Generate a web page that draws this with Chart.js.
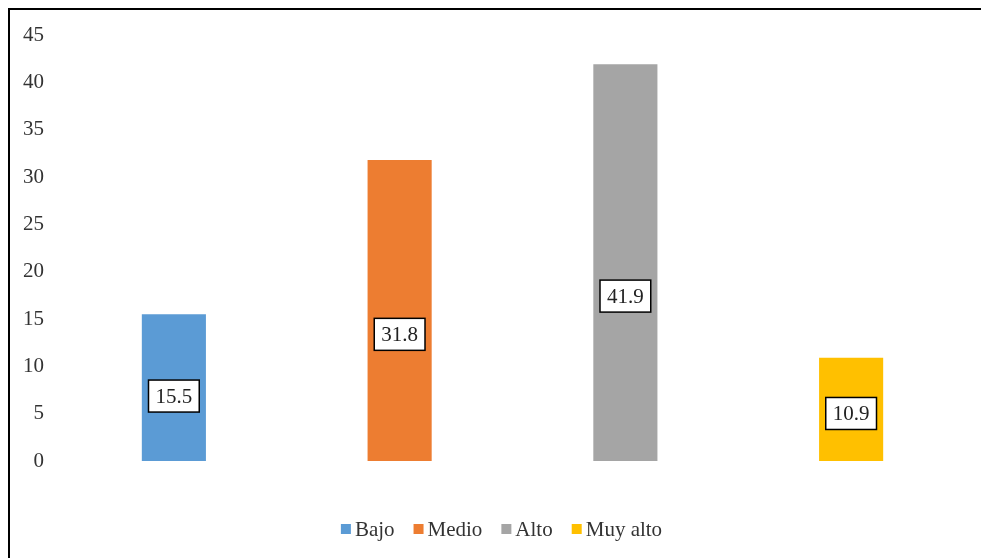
<!DOCTYPE html>
<html lang="es">
<head>
<meta charset="UTF-8">
<title>Niveles</title>
<script src="https://cdn.jsdelivr.net/npm/chart.js"></script>
<style>
  body { margin: 0; background: #fff; }
  #frame {
    position: absolute;
    left: 8px; top: 8px;
    width: 971px; height: 548px;
    border-top: 2px solid #000;
    border-left: 2px solid #000;
  }
  #chart { display: block; }
</style>
</head>
<body>
<div id="frame"><canvas id="chart" width="971" height="548"></canvas></div>
<script>
const categories = ['Bajo', 'Medio', 'Alto', 'Muy alto'];
const values = [15.5, 31.8, 41.9, 10.9];
const barColors = ['#5B9BD5', '#ED7D31', '#A5A5A5', '#FFC000'];
const yTicks = [0, 5, 10, 15, 20, 25, 30, 35, 40, 45];

const serif = "'Liberation Serif', 'Times New Roman', serif";

// boxed value labels, drawn a bit below the middle of each bar
const boxLabels = {
  id: 'boxLabels',
  afterDatasetsDraw(chart) {
    const c = chart.ctx;
    const y = chart.scales.y;
    const meta = chart.getDatasetMeta(0);
    c.save();
    c.font = '21px ' + serif;
    c.textAlign = 'center';
    c.textBaseline = 'middle';
    meta.data.forEach((bar, i) => {
      const v = values[i];
      const txt = v.toFixed(1);
      const cy = y.getPixelForValue(v * 0.4 + 0.66);
      const w = c.measureText(txt).width + 14;
      const h = 32;
      c.fillStyle = '#fff';
      c.fillRect(bar.x - w / 2, cy - h / 2, w, h);
      c.strokeStyle = '#000';
      c.lineWidth = 1.5;
      c.strokeRect(bar.x - w / 2, cy - h / 2, w, h);
      c.fillStyle = '#222';
      c.fillText(txt, bar.x, cy + 1);
    });
    c.restore();
  }
};

// legend in the Office style: small square, tight gap, wide spacing
const officeLegend = {
  id: 'officeLegend',
  afterDraw(chart) {
    const c = chart.ctx;
    c.save();
    c.font = '21px ' + serif;
    c.textBaseline = 'middle';
    const box = 10, gap = 4, space = 19;
    const widths = categories.map(t => c.measureText(t).width);
    const total = widths.reduce((a, w) => a + box + gap + w, 0) + space * (categories.length - 1);
    let x = chart.width / 2 + 6 - total / 2;
    const cy = chart.height - 29;
    categories.forEach((t, i) => {
      c.fillStyle = barColors[i];
      c.fillRect(x, cy - box / 2, box, box);
      x += box + gap;
      c.fillStyle = '#333';
      c.fillText(t, x, cy + 1);
      x += widths[i] + space;
    });
    c.restore();
  }
};

new Chart(document.getElementById('chart'), {
  type: 'bar',
  data: {
    labels: categories,
    datasets: [{
      data: values,
      backgroundColor: barColors,
      categoryPercentage: 1,
      barPercentage: 0.284
    }]
  },
  options: {
    responsive: false,
    animation: false,
    layout: { autoPadding: false, padding: { top: 25, left: 13, right: 17, bottom: 0 } },
    plugins: {
      tooltip: { enabled: false },
      legend: { display: false }
    },
    scales: {
      x: {
        grid: { display: false },
        border: { display: false },
        ticks: { display: false },
        afterFit: s => { s.height = 97; }
      },
      y: {
        min: 0,
        max: 45,
        afterBuildTicks: s => { s.ticks = yTicks.map(v => ({ value: v })); },
        afterFit: s => { s.width = 38; },
        grid: { display: false, drawTicks: false },
        border: { display: false },
        ticks: {
          padding: 17,
          color: '#333',
          font: { family: serif, size: 21, lineHeight: 0.7 }
        }
      }
    }
  },
  plugins: [boxLabels, officeLegend]
});
</script>
</body>
</html>
